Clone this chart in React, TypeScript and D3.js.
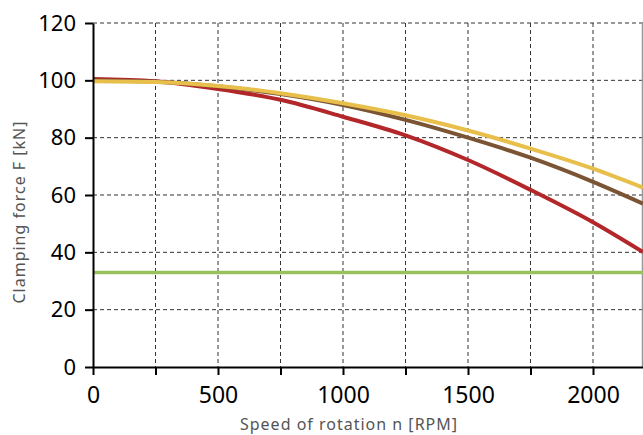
import { useEffect, useRef } from 'react'
import * as d3 from 'd3'

// speed of rotation [RPM] where the curves were read
const rpm = [0, 250, 500, 750, 1000, 1250, 1500, 1750, 2000, 2200]

// clamping force [kN] for each curve
const redForce = [100.5, 99.7, 97.0, 93.2, 87.3, 80.8, 72.2, 61.8, 50.5, 40.1]
const brownForce = [99.9, 99.5, 97.9, 95.2, 91.4, 86.2, 80.0, 73.0, 64.6, 57.0]
const yellowForce = [99.7, 99.4, 98.0, 95.5, 92.0, 87.8, 82.5, 76.2, 69.2, 62.6]
const greenForce = [33, 33, 33, 33, 33, 33, 33, 33, 33, 33]

const xTicks = [0, 500, 1000, 1500, 2000]
const xGrid = [250, 500, 750, 1000, 1250, 1500, 1750, 2000]
const yTicks = [0, 20, 40, 60, 80, 100, 120]

export default function App() {
  const ref = useRef<SVGSVGElement>(null)

  useEffect(() => {
    draw()
  }, [])

  const draw = () => {
    const width = 643
    const height = 435
    const margin = { top: 23, bottom: 68, left: 93, right: 0 }

    const svg = d3.select(ref.current)
    svg.selectAll('*').remove()

    const x = d3.scaleLinear()
      .domain([0, 2200])
      .range([margin.left, width - margin.right])
    const y = d3.scaleLinear()
      .domain([0, 120])
      .range([height - margin.bottom, margin.top])

    // grid
    const grid = svg.append('g')
    grid.selectAll('line.v')
      .data(xGrid)
      .join('line')
      .attr('class', 'v')
      .attr('x1', d => x(d))
      .attr('x2', d => x(d))
      .attr('y1', y(120))
      .attr('y2', y(0))
    grid.selectAll('line.h')
      .data(yTicks.filter(d => d > 0))
      .join('line')
      .attr('class', 'h')
      .attr('x1', x(0))
      .attr('x2', x(2200))
      .attr('y1', d => y(d))
      .attr('y2', d => y(d))
    grid.selectAll('line')
      .attr('stroke', '#333')
      .attr('stroke-width', 1)
      .attr('stroke-dasharray', '4 3')

    // right border
    svg.append('line')
      .attr('x1', x(2200) - 0.5)
      .attr('x2', x(2200) - 0.5)
      .attr('y1', y(120))
      .attr('y2', y(0))
      .attr('stroke', '#999')
      .attr('stroke-width', 1.5)

    const line = d3.line<number>()
      .x((_, i) => x(rpm[i]))
      .y(d => y(d))
      .curve(d3.curveMonotoneX)

    const series = [
      { values: greenForce, color: '#98c15e', w: 3.5 },
      { values: redForce, color: '#b3272a', w: 4 },
      { values: brownForce, color: '#7b5434', w: 4 },
      { values: yellowForce, color: '#e8bf4b', w: 4 }
    ]
    svg.append('g')
      .selectAll('path')
      .data(series)
      .join('path')
      .attr('d', d => line(d.values))
      .attr('fill', 'none')
      .attr('stroke', d => d.color)
      .attr('stroke-width', d => d.w)

    // axes
    const xAxis = d3.axisBottom(x)
      .tickValues([...xTicks, 250, 750, 1250, 1750])
      .tickFormat(d => (xTicks.includes(+d) ? String(d) : ''))
      .tickSize(8)
      .tickSizeOuter(0)
    const gx = svg.append('g')
      .attr('transform', `translate(0, ${y(0)})`)
      .call(xAxis)
    gx.select('.domain').attr('stroke', '#000').attr('stroke-width', 2)
    gx.selectAll('.tick line').attr('stroke', '#000').attr('stroke-width', 2)
    gx.selectAll('.tick text')
      .attr('font-family', 'Noto Sans')
      .attr('font-size', 23)
      .attr('fill', '#000')
      .attr('dy', '1.1em')

    const yAxis = d3.axisLeft(y)
      .tickValues(yTicks)
      .tickSize(8)
      .tickSizeOuter(0)
    const gy = svg.append('g')
      .attr('transform', `translate(${x(0)}, 0)`)
      .call(yAxis)
    gy.select('.domain').attr('stroke', '#000').attr('stroke-width', 2)
    gy.selectAll('.tick line').attr('stroke', '#000').attr('stroke-width', 2)
    gy.selectAll('.tick text')
      .attr('font-family', 'Noto Sans')
      .attr('font-size', 22)
      .attr('fill', '#000')
      .attr('x', -17)

    // axis titles
    svg.append('text')
      .attr('x', 349)
      .attr('y', 430)
      .attr('text-anchor', 'middle')
      .attr('font-family', 'Noto Sans')
      .attr('font-size', 16)
      .attr('letter-spacing', 1)
      .attr('fill', '#555')
      .text('Speed of rotation n [RPM]')
    svg.append('text')
      .attr('transform', 'translate(25, 212) rotate(-90)')
      .attr('text-anchor', 'middle')
      .attr('font-family', 'Noto Sans')
      .attr('font-size', 16)
      .attr('letter-spacing', 1)
      .attr('fill', '#555')
      .text('Clamping force F [kN]')
  }

  return (
    <svg
      ref={ref}
      width={643}
      height={435}
      style={{ position: 'absolute', left: 0, top: 0, background: '#fff' }}
    />
  )
}
